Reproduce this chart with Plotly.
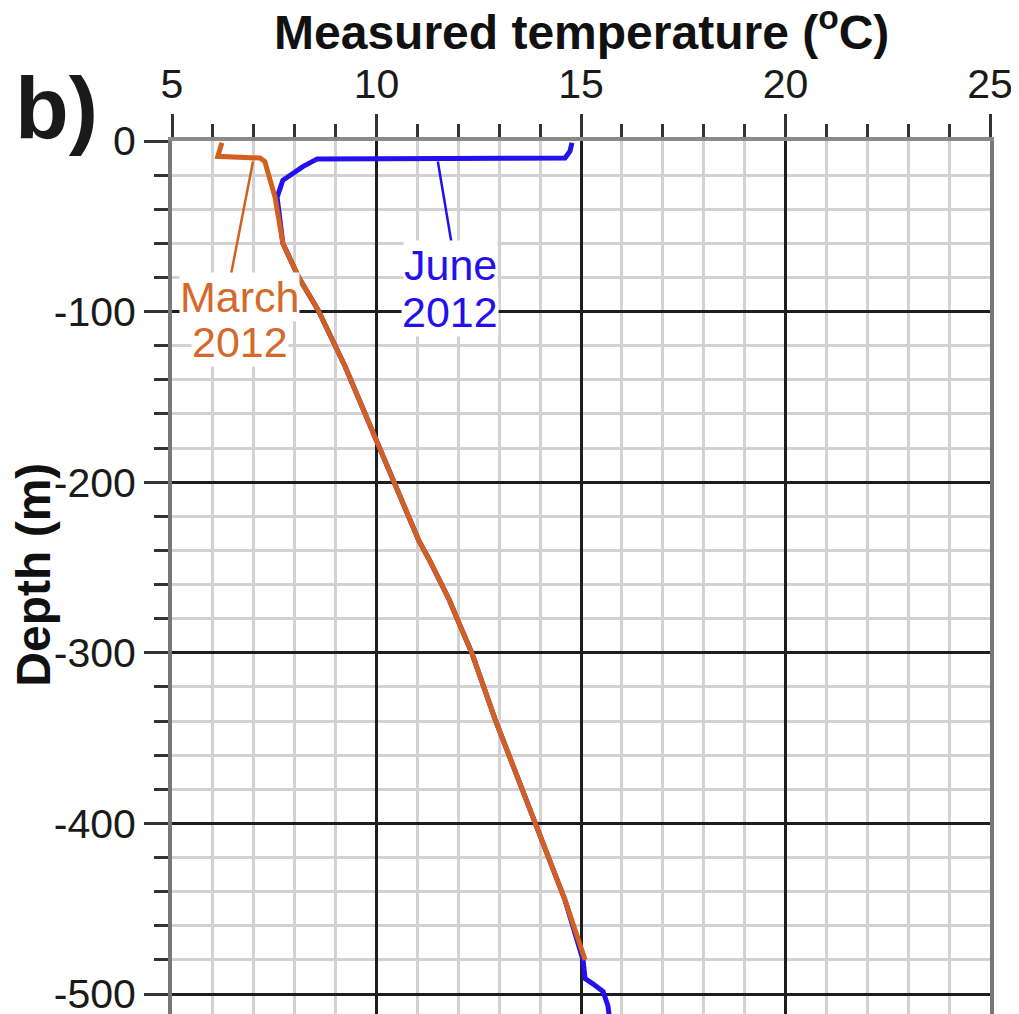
import plotly.graph_objects as go

# March 2012 profile (temperature degC, depth m)
march_temp = [6.22, 6.12, 7.15, 7.27, 7.52, 7.71, 8.10, 8.57, 9.23, 9.99, 10.40, 11.03,
              11.28, 11.78, 11.99, 12.33, 12.90, 13.46, 13.88, 14.61, 15.10]
march_depth = [-1, -9, -10, -12, -33, -60, -80, -99, -132, -175, -199, -234,
               -245, -269, -281, -300, -339, -374, -400, -445, -480]

# June 2012 profile
june_temp = [14.78, 14.73, 14.61, 8.55, 8.20, 7.71, 7.57, 7.71, 8.10, 8.57, 9.23, 9.99,
             10.40, 11.03, 11.28, 11.78, 11.99, 12.33, 12.90, 13.46, 13.88, 14.61,
             15.05, 15.10, 15.29, 15.54, 15.66, 15.70]
june_depth = [-1, -6, -10, -10.5, -15, -23, -33, -60, -80, -99, -132, -175,
              -199, -234, -245, -269, -281, -300, -339, -374, -400, -445,
              -480, -491, -494, -498.5, -507, -515]

x_ticks = [5, 10, 15, 20, 25]
y_ticks = [0, -100, -200, -300, -400, -500]
y_tick_labels = ["0", "-100", "-200", "-300", "-400", "-500"]

ORANGE = "#d2601e"
BLUE = "#2410ec"
FONT = "Liberation Sans, Arial, sans-serif"

fig = go.Figure()
fig.add_trace(go.Scatter(x=june_temp, y=june_depth, mode="lines",
                         line=dict(color=BLUE, width=5), showlegend=False))
fig.add_trace(go.Scatter(x=march_temp, y=march_depth, mode="lines",
                         line=dict(color=ORANGE, width=5), showlegend=False))

# leader lines
fig.add_trace(go.Scatter(x=[6.98, 6.42], y=[-12, -81], mode="lines",
                         line=dict(color=ORANGE, width=2.5), showlegend=False))
fig.add_trace(go.Scatter(x=[11.5, 11.85], y=[-12, -62], mode="lines",
                         line=dict(color=BLUE, width=2.5), showlegend=False))

grid_minor = "#d2d2d2"
grid_major = "#1e1e1e"

fig.update_xaxes(
    range=[5, 25], side="top", tickvals=x_ticks, automargin=False,
    showgrid=True, gridcolor=grid_major, gridwidth=3,
    ticks="outside", ticklen=23, tickwidth=3, tickcolor="#333",
    tickfont=dict(family=FONT, size=41, color="#1a1a1a"),
    ticklabeloverflow="allow",
    showline=True, linecolor="#8a8a8a", linewidth=4,
    zeroline=False,
    minor=dict(dtick=1, showgrid=True, gridcolor=grid_minor, gridwidth=3,
               ticks="outside", ticklen=13, tickwidth=3, tickcolor="#333"),
)
fig.update_yaxes(
    range=[-511.7, 0], tickvals=y_ticks, ticktext=y_tick_labels, automargin=False,
    showgrid=True, gridcolor=grid_major, gridwidth=3,
    ticks="outside", ticklen=24, tickwidth=3, tickcolor="#333",
    tickfont=dict(family=FONT, size=41, color="#1a1a1a"),
    ticklabeloverflow="allow",
    showline=True, mirror=True, linecolor="#777777", linewidth=4,
    zeroline=False,
    minor=dict(dtick=20, showgrid=True, gridcolor=grid_minor, gridwidth=3,
               ticks="outside", ticklen=14, tickwidth=3, tickcolor="#333"),
)

annotations = [
    dict(text="<b>Measured temperature (<sup>o</sup>C)</b>", xref="paper", yref="paper",
         x=0.501, y=1.128, showarrow=False, font=dict(family=FONT, size=48, color="#111"),
         xanchor="center", yanchor="middle"),
    dict(text="<b>b)</b>", xref="paper", yref="paper", x=-0.1406, y=1.038,
         showarrow=False, font=dict(family=FONT, size=88, color="#1a1a1a"),
         xanchor="center", yanchor="middle"),
    dict(text="<b>Depth (m)</b>", xref="paper", yref="paper", x=-0.169, y=0.503,
         showarrow=False, textangle=-90, font=dict(family=FONT, size=48, color="#111"),
         xanchor="center", yanchor="middle"),
    dict(text="March", x=6.66, y=-91.4, showarrow=False, bgcolor="white", borderpad=0,
         font=dict(family=FONT, size=43, color="#d4692a")),
    dict(text="2012", x=6.66, y=-117.8, showarrow=False, bgcolor="white", borderpad=0,
         font=dict(family=FONT, size=43, color="#d4692a")),
    dict(text="June", x=11.8, y=-72.6, showarrow=False, bgcolor="white", borderpad=0,
         font=dict(family=FONT, size=43, color=BLUE)),
    dict(text="2012", x=11.8, y=-100.2, showarrow=False, bgcolor="white", borderpad=0,
         font=dict(family=FONT, size=43, color=BLUE)),
]

# the page body adds an 8 px offset, so the figure is sized to end at the window edge
fig.update_layout(
    width=1011, height=1006,
    margin=dict(l=164, r=29, t=133, b=0),
    paper_bgcolor="white", plot_bgcolor="white",
    annotations=annotations,
    showlegend=False,
)

fig.write_html("out.html")
